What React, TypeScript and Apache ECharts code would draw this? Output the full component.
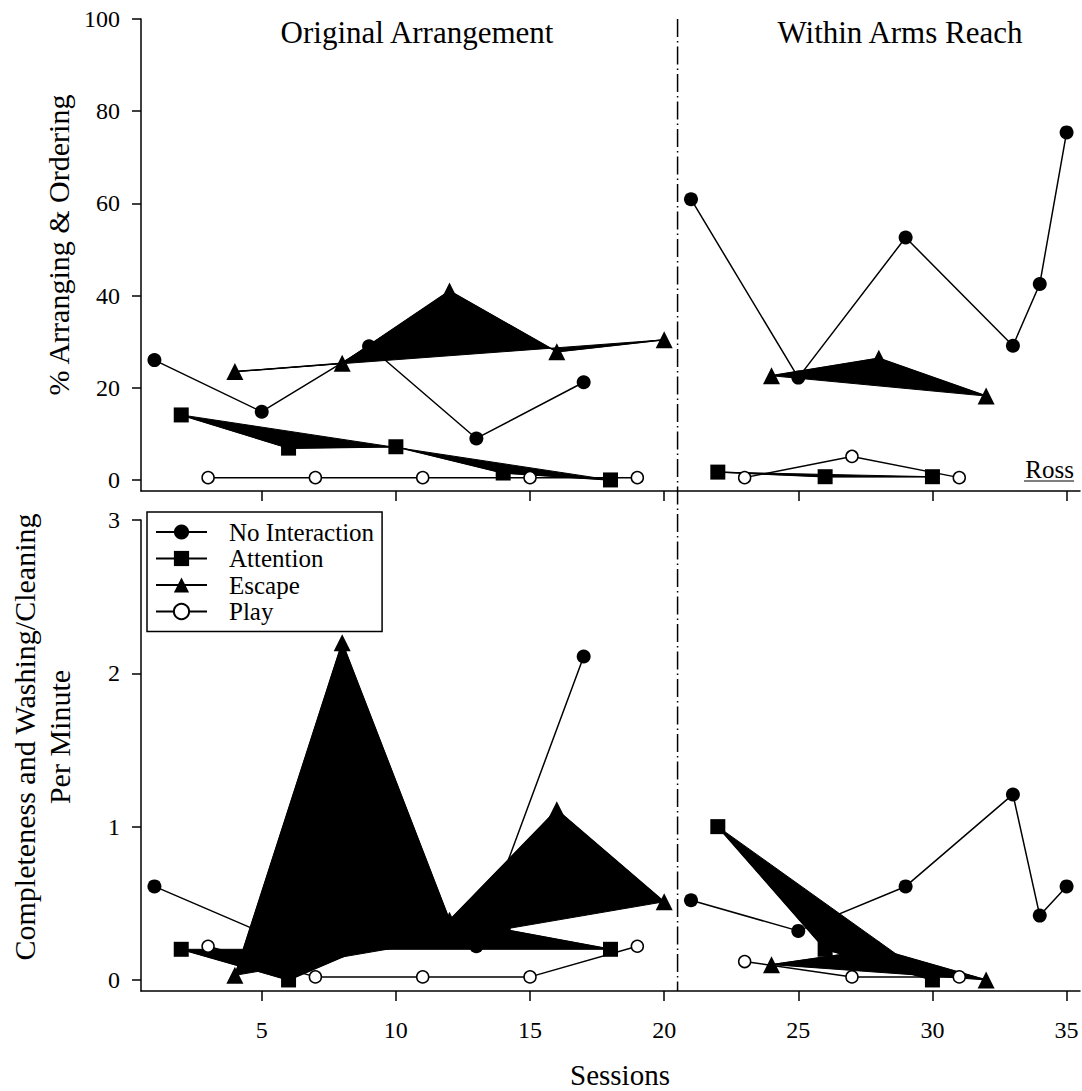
import React, { useEffect, useRef } from 'react';
import * as echarts from 'echarts';

const FONT = 'Liberation Serif';

// ---- axes / ticks ----
const sessionTicks = [5, 10, 15, 20, 25, 30, 35];
const pctTicks = [0, 20, 40, 60, 80, 100];
const rateTicks = [0, 1, 2, 3];
const phaseChange = 20.5;
const seriesNames = ['No Interaction', 'Attention', 'Escape', 'Play'];
const phaseTitles = ['Original Arrangement', 'Within Arms Reach'];

// ---- top panel: % Arranging & Ordering ----
const topNoInteraction1 = [[1, 26], [5, 14.8], [9, 29], [13, 9], [17, 21.2]];
const topNoInteraction2 = [[21, 60.9], [25, 22.2], [29, 52.6], [33, 29.1], [34, 42.5], [35, 75.4]];
const topAttention1 = [[2, 14.1], [6, 6.9], [10, 7.2], [14, 1.5], [18, 0]];
const topAttention2 = [[22, 1.7], [26, 0.7], [30, 0.7]];
const topEscape1 = [[4, 23.5], [8, 25.3], [12, 41], [16, 27.8], [20, 30.4]];
const topEscape2 = [[24, 22.6], [28, 26.4], [32, 18.2]];
const topPlay1 = [[3, 0.5], [7, 0.5], [11, 0.5], [15, 0.5], [19, 0.5]];
const topPlay2 = [[23, 0.5], [27, 5.1], [31, 0.5]];

// ---- bottom panel: Completeness and Washing/Cleaning per minute ----
const botNoInteraction1 = [[1, 0.61], [5, 0.31], [9, 0.35], [13, 0.22], [17, 2.11]];
const botNoInteraction2 = [[21, 0.52], [25, 0.32], [29, 0.61], [33, 1.21], [34, 0.42], [35, 0.61]];
const botAttention1 = [[2, 0.2], [6, 0], [10, 0.3], [14, 0.33], [18, 0.2]];
const botAttention2 = [[22, 1.0], [26, 0.2], [30, 0]];
const botEscape1 = [[4, 0.03], [8, 2.2], [12, 0.39], [16, 1.11], [20, 0.51]];
const botEscape2 = [[24, 0.1], [28, 0.2], [32, 0]];
const botPlay1 = [[3, 0.22], [7, 0.02], [11, 0.02], [15, 0.02], [19, 0.22]];
const botPlay2 = [[23, 0.12], [27, 0.02], [31, 0.02]];

const styles: Record<string, any> = {
  'No Interaction': { symbol: 'circle', symbolSize: 14, itemStyle: { color: '#000' }, z: 1 },
  Attention: { symbol: 'rect', symbolSize: 15, itemStyle: { color: '#000' }, z: 3 },
  Escape: { symbol: 'triangle', symbolSize: 17, itemStyle: { color: '#000' }, z: 5 },
  Play: {
    symbol: 'circle',
    symbolSize: 12,
    itemStyle: { color: '#fff', borderColor: '#000', borderWidth: 1.5 },
    z: 6,
  },
};

function lineSeries(name: string, p1: number[][], p2: number[][], axis: number) {
  const s = styles[name];
  return {
    type: 'line',
    name,
    xAxisIndex: axis,
    yAxisIndex: axis,
    data: [...p1, [phaseChange, '-'], ...p2],
    connectNulls: false,
    symbol: s.symbol,
    symbolSize: s.symbolSize,
    showSymbol: true,
    itemStyle: s.itemStyle,
    lineStyle: { color: '#000', width: 1.5 },
    z: s.z,
    silent: true,
  };
}

function fillSeries(points: number[][], axis: number, z: number) {
  return {
    type: 'custom',
    xAxisIndex: axis,
    yAxisIndex: axis,
    data: points,
    z,
    silent: true,
    renderItem: (params: any, api: any) => {
      if (params.dataIndex !== 0) return null;
      return {
        type: 'polygon',
        shape: { points: points.map((p) => api.coord(p)) },
        style: { fill: '#000', stroke: '#000', lineWidth: 1 },
      };
    },
  };
}

function xAxis(grid: number, showLabels: boolean) {
  return {
    gridIndex: grid,
    type: 'value',
    min: 0.5,
    max: 35.5,
    axisLine: { show: true, onZero: false, lineStyle: { color: '#000', width: 1.5 } },
    axisTick: { show: true, inside: false, length: 10, customValues: sessionTicks, lineStyle: { color: '#000', width: 1.5 } },
    axisLabel: {
      show: showLabels,
      customValues: sessionTicks,
      margin: 27,
      fontSize: 24,
      color: '#000',
      fontFamily: FONT,
    },
    splitLine: { show: false },
  };
}

function yAxis(grid: number, min: number, max: number, ticks: number[]) {
  return {
    gridIndex: grid,
    type: 'value',
    min,
    max,
    axisLine: { show: true, onZero: false, lineStyle: { color: '#000', width: 1.5 } },
    axisTick: { show: true, inside: false, length: 9, customValues: ticks, lineStyle: { color: '#000', width: 1.5 } },
    axisLabel: { customValues: ticks, margin: 21, fontSize: 24, color: '#000', fontFamily: FONT },
    splitLine: { show: false },
  };
}

export default function App() {
  const ref = useRef<HTMLDivElement>(null);

  useEffect(() => {
    if (!ref.current) return;
    const chart = echarts.init(ref.current, undefined, { renderer: 'svg' });

    const option: any = {
      animation: false,
      backgroundColor: '#fff',
      textStyle: { fontFamily: FONT },
      grid: [
        { left: 141, top: 19, width: 939, height: 472 },
        { left: 141, top: 520, width: 939, height: 471 },
      ],
      xAxis: [xAxis(0, false), xAxis(1, true)],
      yAxis: [yAxis(0, -2.4, 100, pctTicks), yAxis(1, -0.072, 3, rateTicks)],
      legend: {
        show: true,
        data: seriesNames,
        orient: 'vertical',
        left: 147,
        top: 512,
        padding: [7, 8, 7, 8],
        itemGap: 0.5,
        itemWidth: 51,
        itemHeight: 19,
        borderColor: '#000',
        borderWidth: 1.5,
        borderRadius: 0,
        backgroundColor: '#fff',
        selectedMode: false,
        textStyle: {
          fontSize: 25,
          fontFamily: FONT,
          color: '#000',
          lineHeight: 26,
          padding: [0, 0, 0, 17],
        },
      },
      series: [
        lineSeries('No Interaction', topNoInteraction1, topNoInteraction2, 0),
        fillSeries(topAttention1, 0, 2),
        fillSeries(topAttention2, 0, 2),
        lineSeries('Attention', topAttention1, topAttention2, 0),
        fillSeries(topEscape1, 0, 4),
        fillSeries(topEscape2, 0, 4),
        lineSeries('Escape', topEscape1, topEscape2, 0),
        lineSeries('Play', topPlay1, topPlay2, 0),

        lineSeries('No Interaction', botNoInteraction1, botNoInteraction2, 1),
        fillSeries(botAttention1, 1, 2),
        fillSeries(botAttention2, 1, 2),
        lineSeries('Attention', botAttention1, botAttention2, 1),
        fillSeries(botEscape1, 1, 4),
        fillSeries(botEscape2, 1, 4),
        lineSeries('Escape', botEscape1, botEscape2, 1),
        lineSeries('Play', botPlay1, botPlay2, 1),
      ],
    };
    chart.setOption(option);

    const xPhase = chart.convertToPixel({ xAxisIndex: 0 }, phaseChange) as number;
    const yTop = chart.convertToPixel({ yAxisIndex: 0 }, 100) as number;
    const yBottom = chart.convertToPixel({ yAxisIndex: 1 }, -0.072) as number;

    const txt = (text: string, x: number, y: number, size: number, extra: any = {}) => ({
      type: 'text',
      x,
      y,
      rotation: extra.rotation || 0,
      style: {
        text,
        fontSize: size,
        fontFamily: FONT,
        fill: '#000',
        align: extra.align || 'center',
        verticalAlign: 'middle',
        lineHeight: extra.lineHeight,
      },
    });

    chart.setOption({
      graphic: [
        {
          type: 'line',
          silent: true,
          z: 10,
          shape: { x1: xPhase, y1: yTop, x2: xPhase, y2: yBottom },
          style: { stroke: '#000', lineWidth: 1.5, lineDash: [18, 4, 1.5, 4] },
        },
        txt(phaseTitles[0], 417, 32, 31),
        txt(phaseTitles[1], 900, 32, 31),
        txt('% Arranging & Ordering', 58, 245, 30, { rotation: Math.PI / 2 }),
        txt('Completeness and Washing/Cleaning\nPer Minute', 42, 737, 30, {
          rotation: Math.PI / 2,
          lineHeight: 35,
        }),
        txt('Sessions', 620, 1075, 29),
        txt('Ross', 1074, 469, 25, { align: 'right' }),
        {
          type: 'line',
          shape: { x1: 1024, y1: 481, x2: 1074, y2: 481 },
          style: { stroke: '#000', lineWidth: 1.2 },
        },
      ],
    });

    return () => chart.dispose();
  }, []);

  return (
    <div
      ref={ref}
      style={{ position: 'fixed', left: 0, top: 0, width: 1082, height: 1091, background: '#fff' }}
    />
  );
}
